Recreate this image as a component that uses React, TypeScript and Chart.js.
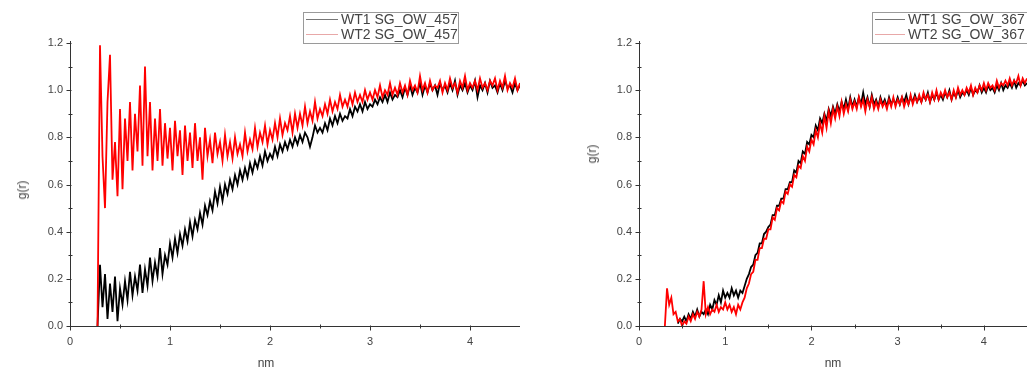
import React, { useEffect, useRef } from "react";
import { Chart, registerables } from "chart.js";

Chart.register(...registerables);

// r grid (nm): R_START + i * R_STEP
const R_START = 0.275;
const R_STEP = 0.025;

const LEFT_LABELS = ["WT1 SG_OW_457", "WT2 SG_OW_457"];
const RIGHT_LABELS = ["WT1 SG_OW_367", "WT2 SG_OW_367"];

const Y_TICKS = [0, 0.2, 0.4, 0.6, 0.8, 1.0, 1.2];
const X_TICKS = [0, 1, 2, 3, 4];

const LEFT_WT1: (number | null)[] = [
  0.00, 0.26, 0.08, 0.22, 0.03, 0.18, 0.06, 0.21, 0.02, 0.16,
  0.09, 0.19, 0.11, 0.23, 0.13, 0.21, 0.15, 0.26, 0.14, 0.24,
  0.17, 0.29, 0.19, 0.27, 0.21, 0.33, 0.22, 0.30, 0.26, 0.35,
  0.29, 0.37, 0.31, 0.39, 0.34, 0.41, 0.36, 0.44, 0.38, 0.45,
  0.41, 0.48, 0.43, 0.51, 0.47, 0.53, 0.49, 0.57, 0.52, 0.59,
  0.53, 0.60, 0.56, 0.62, 0.58, 0.64, 0.60, 0.66, 0.62, 0.67,
  0.63, 0.69, 0.65, 0.70, 0.67, 0.72, 0.68, 0.74, 0.70, 0.73,
  0.71, 0.76, 0.72, 0.77, 0.74, 0.78, 0.75, 0.79, 0.76, 0.80,
  0.77, 0.81, 0.78, 0.82, 0.80, 0.76, 0.80, 0.85, 0.82, 0.84,
  0.82, 0.86, 0.83, 0.88, 0.85, 0.89, 0.86, 0.90, 0.87, 0.89,
  0.88, 0.92, 0.89, 0.93, 0.91, 0.94, 0.91, 0.95, 0.92, 0.94,
  0.93, 0.96, 0.94, 0.97, 0.95, 0.98, 0.95, 0.99, 0.96, 0.98,
  0.97, 1.00, 0.97, 1.01, 0.98, 1.02, 0.98, 1.01, 0.99, 1.03,
  0.98, 1.02, 0.99, 1.03, 1.00, 1.02, 0.98, 1.03, 1.00, 1.02,
  0.99, 1.03, 1.00, 1.04, 0.98, 1.02, 1.00, 1.03, 0.99, 1.02,
  1.00, 1.04, 0.97, 1.02, 1.00, 1.03, 0.99, 1.04, 1.01, 1.02,
  0.99, 1.03, 1.00, 1.04, 1.01, 1.02, 0.99, 1.03, 1.00, 1.02,
];

const LEFT_WT2: (number | null)[] = [
  0.00, 1.19, 0.72, 0.50, 0.95, 1.15, 0.62, 0.78, 0.55, 0.92,
  0.58, 0.88, 0.70, 0.95, 0.66, 0.90, 0.74, 1.02, 0.68, 1.10,
  0.72, 0.95, 0.66, 0.88, 0.70, 0.92, 0.68, 0.86, 0.71, 0.84,
  0.66, 0.87, 0.72, 0.83, 0.64, 0.85, 0.70, 0.82, 0.67, 0.86,
  0.70, 0.80, 0.62, 0.84, 0.72, 0.79, 0.69, 0.82, 0.73, 0.78,
  0.70, 0.81, 0.72, 0.78, 0.71, 0.80, 0.73, 0.77, 0.72, 0.82,
  0.74, 0.79, 0.75, 0.84, 0.76, 0.82, 0.78, 0.85, 0.77, 0.83,
  0.79, 0.86, 0.80, 0.88, 0.81, 0.86, 0.83, 0.89, 0.82, 0.90,
  0.84, 0.90, 0.85, 0.93, 0.86, 0.91, 0.87, 0.95, 0.88, 0.92,
  0.89, 0.94, 0.90, 0.96, 0.91, 0.95, 0.92, 0.98, 0.93, 0.96,
  0.93, 0.98, 0.94, 0.99, 0.95, 0.98, 0.95, 1.00, 0.96, 0.99,
  0.96, 1.00, 0.97, 1.02, 0.97, 1.00, 0.98, 1.03, 0.98, 1.01,
  0.98, 1.03, 0.99, 1.02, 0.98, 1.04, 1.00, 1.02, 0.99, 1.06,
  1.00, 1.03, 0.99, 1.04, 1.00, 1.02, 1.01, 1.04, 0.99, 1.03,
  1.00, 1.05, 1.01, 1.03, 0.99, 1.04, 1.01, 1.06, 1.00, 1.03,
  1.01, 1.04, 1.00, 1.05, 1.01, 1.03, 1.00, 1.04, 1.02, 1.05,
  1.00, 1.04, 1.01, 1.06, 1.00, 1.03, 1.01, 1.05, 1.00, 1.03,
];

const RIGHT_WT1: (number | null)[] = [
  null, null, null, null, null, null, null, 0.01, 0.03, 0.02,
  0.04, 0.02, 0.05, 0.03, 0.06, 0.04, 0.07, 0.04, 0.06, 0.05,
  0.07, 0.05, 0.09, 0.07, 0.11, 0.09, 0.13, 0.10, 0.15, 0.12,
  0.14, 0.12, 0.16, 0.13, 0.15, 0.12, 0.15, 0.14, 0.17, 0.20,
  0.22, 0.25, 0.26, 0.30, 0.31, 0.35, 0.35, 0.39, 0.40, 0.42,
  0.43, 0.47, 0.47, 0.51, 0.51, 0.54, 0.54, 0.58, 0.58, 0.61,
  0.61, 0.66, 0.65, 0.70, 0.69, 0.74, 0.73, 0.78, 0.77, 0.81,
  0.80, 0.85, 0.83, 0.88, 0.86, 0.90, 0.87, 0.92, 0.89, 0.93,
  0.90, 0.94, 0.91, 0.95, 0.92, 0.96, 0.92, 0.97, 0.93, 0.96,
  0.93, 0.97, 0.94, 0.99, 0.94, 0.97, 0.93, 0.98, 0.94, 0.96,
  0.93, 0.97, 0.94, 0.96, 0.93, 0.97, 0.94, 0.96, 0.94, 0.97,
  0.94, 0.97, 0.95, 0.98, 0.94, 0.97, 0.95, 0.98, 0.95, 0.97,
  0.95, 0.98, 0.96, 0.99, 0.95, 0.98, 0.96, 0.99, 0.96, 0.98,
  0.96, 0.99, 0.97, 1.00, 0.96, 0.99, 0.97, 1.00, 0.97, 0.99,
  0.98, 1.00, 0.98, 1.01, 0.98, 1.00, 0.99, 1.02, 0.99, 1.01,
  0.99, 1.02, 1.00, 1.01, 0.99, 1.02, 1.00, 1.03, 1.00, 1.02,
  1.01, 1.03, 1.01, 1.04, 1.01, 1.03, 1.02, 1.04, 1.02, 1.03,
];

const RIGHT_WT2: (number | null)[] = [
  null, 0.00, 0.16, 0.09, 0.12, 0.05, 0.06, 0.02, 0.03, 0.00,
  0.02, 0.01, 0.04, 0.02, 0.05, 0.03, 0.06, 0.04, 0.07, 0.19,
  0.05, 0.08, 0.05, 0.07, 0.06, 0.09, 0.06, 0.08, 0.07, 0.10,
  0.07, 0.09, 0.06, 0.08, 0.05, 0.09, 0.07, 0.10, 0.12, 0.16,
  0.18, 0.22, 0.23, 0.28, 0.28, 0.33, 0.33, 0.37, 0.37, 0.41,
  0.41, 0.46, 0.45, 0.50, 0.49, 0.53, 0.52, 0.57, 0.56, 0.60,
  0.59, 0.64, 0.63, 0.68, 0.67, 0.72, 0.70, 0.76, 0.74, 0.79,
  0.77, 0.83, 0.80, 0.86, 0.82, 0.89, 0.84, 0.91, 0.86, 0.92,
  0.88, 0.93, 0.89, 0.95, 0.90, 0.94, 0.91, 0.96, 0.92, 0.95,
  0.92, 0.97, 0.93, 0.96, 0.91, 0.96, 0.93, 0.97, 0.92, 0.95,
  0.92, 0.96, 0.93, 0.95, 0.92, 0.96, 0.93, 0.97, 0.93, 0.96,
  0.94, 0.97, 0.93, 0.96, 0.94, 0.98, 0.94, 0.97, 0.95, 0.98,
  0.95, 0.99, 0.96, 0.98, 0.95, 0.99, 0.96, 1.00, 0.96, 0.99,
  0.97, 1.00, 0.97, 0.99, 0.96, 1.00, 0.97, 1.01, 0.98, 1.00,
  0.98, 1.01, 0.99, 1.02, 0.98, 1.01, 0.99, 1.02, 1.00, 1.03,
  1.00, 1.03, 1.01, 1.02, 1.00, 1.04, 1.01, 1.03, 1.02, 1.04,
  1.02, 1.05, 1.02, 1.04, 1.03, 1.06, 1.02, 1.05, 1.03, 1.05,
];

const toPoints = (ys: (number | null)[]) =>
  ys.map((y, i) => ({ x: R_START + i * R_STEP, y }));

const FONT = "'Liberation Sans', Arial, sans-serif";

const axesPlugin = {
  id: "originAxes",
  afterDatasetsDraw(chart: any) {
    const { ctx, chartArea, scales } = chart;
    const { left, right, top, bottom } = chartArea;
    const x = scales.x;
    const y = scales.y;
    ctx.save();
    ctx.strokeStyle = "#333";
    ctx.lineWidth = 1;
    ctx.beginPath();
    const lx = Math.round(left) + 0.5;
    const by = Math.round(bottom) + 0.5;
    ctx.moveTo(lx, top - 2);
    ctx.lineTo(lx, by);
    ctx.lineTo(right, by);
    for (let k = 0; k <= 12; k++) {
      const py = Math.round(y.getPixelForValue(k / 10)) + 0.5;
      const major = k % 2 === 0;
      ctx.moveTo(lx - (major ? 4 : 2), py);
      ctx.lineTo(lx + (major ? 1 : 2), py);
    }
    for (let k = 0; k <= 9; k++) {
      const px = Math.round(x.getPixelForValue(k / 2)) + 0.5;
      const major = k % 2 === 0;
      ctx.moveTo(px, by + (major ? 4 : 2));
      ctx.lineTo(px, by - (major ? 1 : 2));
    }
    ctx.stroke();
    ctx.restore();
  },
};

function makeConfig(a: (number | null)[], b: (number | null)[], labels: string[], yWidth: number) {
  return {
    type: "line" as const,
    data: {
      datasets: [
        {
          label: labels[1],
          data: toPoints(b),
          borderColor: "#ff0000",
          borderWidth: 1.8,
          pointRadius: 0,
          tension: 0,
          spanGaps: false,
        },
        {
          label: labels[0],
          data: toPoints(a),
          borderColor: "#000000",
          borderWidth: 1.8,
          pointRadius: 0,
          tension: 0,
          spanGaps: false,
        },
      ],
    },
    options: {
      responsive: false,
      maintainAspectRatio: false,
      animation: false as const,
      events: [],
      layout: { padding: { top: 43, right: 0, bottom: 0, left: 0 } },
      plugins: { legend: { display: false }, tooltip: { enabled: false } },
      scales: {
        x: {
          type: "linear" as const,
          min: 0,
          max: 4.5,
          afterFit: (s: any) => {
            s.height = 46;
          },
          grid: { display: false, drawTicks: false },
          border: { display: false },
          ticks: {
            stepSize: 1,
            includeBounds: false,
            autoSkip: false,
            maxRotation: 0,
            padding: 9,
            color: "#444",
            font: { family: FONT, size: 11 },
            callback: (v: any) => (X_TICKS.includes(Number(v)) ? String(v) : ""),
          },
        },
        y: {
          type: "linear" as const,
          min: 0,
          max: 1.2,
          afterFit: (s: any) => {
            s.width = yWidth;
          },
          grid: { display: false, drawTicks: false },
          border: { display: false },
          ticks: {
            stepSize: 0.2,
            autoSkip: false,
            padding: 7,
            color: "#444",
            font: { family: FONT, size: 11 },
            callback: (v: any) =>
              Y_TICKS.some((t) => Math.abs(t - Number(v)) < 1e-6) ? Number(v).toFixed(1) : "",
          },
        },
      },
    },
    plugins: [axesPlugin],
  };
}

function Legend({ left, labels, lineLeft, textLeft }: { left: number; labels: string[]; lineLeft: number; textLeft: number }) {
  const rows = [
    { color: "#777", top: 19 },
    { color: "#e8a8a8", top: 34 },
  ];
  return (
    <>
      <div
        style={{
          position: "absolute",
          left,
          top: 12,
          width: 156,
          height: 32,
          border: "1px solid #9a9a9a",
          boxSizing: "border-box",
        }}
      />
      {rows.map((r, i) => (
        <React.Fragment key={i}>
          <div
            style={{
              position: "absolute",
              left: lineLeft,
              top: r.top,
              width: textLeft - lineLeft - 3,
              height: 1,
              background: r.color,
            }}
          />
          <div
            style={{
              position: "absolute",
              left: textLeft,
              top: r.top - 8,
              fontFamily: FONT,
              fontSize: 14,
              lineHeight: "16px",
              color: "#444",
              whiteSpace: "nowrap",
            }}
          >
            {labels[i]}
          </div>
        </React.Fragment>
      ))}
    </>
  );
}

function Title({ text, cx, cy, rotate }: { text: string; cx: number; cy: number; rotate?: boolean }) {
  return (
    <div
      style={{
        position: "absolute",
        left: cx,
        top: cy,
        transform: `translate(-50%, -50%)${rotate ? " rotate(-90deg)" : ""}`,
        fontFamily: FONT,
        fontSize: 12,
        lineHeight: "14px",
        color: "#444",
        whiteSpace: "nowrap",
      }}
    >
      {text}
    </div>
  );
}

export default function App() {
  const leftRef = useRef<HTMLCanvasElement>(null);
  const rightRef = useRef<HTMLCanvasElement>(null);

  useEffect(() => {
    const c1 = new Chart(leftRef.current as HTMLCanvasElement, makeConfig(LEFT_WT1, LEFT_WT2, LEFT_LABELS, 70) as any);
    const c2 = new Chart(rightRef.current as HTMLCanvasElement, makeConfig(RIGHT_WT1, RIGHT_WT2, RIGHT_LABELS, 119) as any);
    return () => {
      c1.destroy();
      c2.destroy();
    };
  }, []);

  return (
    <div
      style={{
        position: "absolute",
        left: 0,
        top: 0,
        width: 1027,
        height: 372,
        overflow: "hidden",
        background: "#fff",
      }}
    >
      <canvas ref={leftRef} width={520} height={372} style={{ position: "absolute", left: 0, top: 0, display: "block" }} />
      <canvas ref={rightRef} width={507} height={372} style={{ position: "absolute", left: 520, top: 0, display: "block" }} />
      <Title text="g(r)" cx={22} cy={190} rotate />
      <Title text="g(r)" cx={592} cy={154} rotate />
      <Title text="nm" cx={266} cy={363} />
      <Title text="nm" cx={833} cy={363} />
      <Legend left={303} labels={LEFT_LABELS} lineLeft={306} textLeft={341} />
      <Legend left={872} labels={RIGHT_LABELS} lineLeft={875} textLeft={908} />
    </div>
  );
}
